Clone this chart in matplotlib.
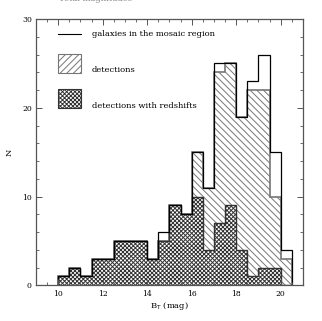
import matplotlib
matplotlib.use("Agg")
import matplotlib.pyplot as plt
import numpy as np
from matplotlib.patches import Rectangle
from matplotlib.ticker import MultipleLocator

# B_T magnitude histograms, 0.5 mag bins from 10 to 20.5
edges = np.arange(10, 20.51, 0.5)
total = [1, 2, 1, 3, 3, 5, 5, 5, 3, 6, 9, 8, 15, 11, 25, 25, 19, 23, 26, 15, 4]
detect = [1, 2, 1, 3, 3, 5, 5, 5, 3, 5, 9, 8, 15, 11, 24, 25, 19, 22, 22, 10, 3]
redshift = [1, 2, 1, 3, 3, 5, 5, 5, 3, 5, 9, 8, 10, 4, 7, 9, 4, 1, 2, 2, 0]

labels = ["galaxies in the mosaic region", "detections", "detections with redshifts"]

plt.rcParams['font.family'] = ['DejaVu Serif']
plt.rcParams['hatch.linewidth'] = 0.7

fig = plt.figure(figsize=(3.22, 3.21), dpi=100)
ax = fig.add_axes([0.1118, 0.111, 0.829, 0.8296])

gray = '#767676'
dark = '#333333'
bslash = chr(92)

# detections: single diagonal hatch
ax.stairs(detect, edges, fill=True, facecolor='white', edgecolor=gray,
          hatch=bslash * 5, linewidth=0)
ax.stairs(detect, edges, color=gray, linewidth=1.2)

# detections with redshifts: cross hatch
ax.stairs(redshift, edges, fill=True, facecolor='white', edgecolor=dark,
          hatch='x' * 8, linewidth=0)
ax.stairs(redshift, edges, color=dark, linewidth=1.0)

# all galaxies: outline only
ax.stairs(total, edges, color='black', linewidth=0.9)

ax.set_xlim(9, 21)
ax.set_ylim(0, 30)
ax.xaxis.set_major_locator(MultipleLocator(2))
ax.xaxis.set_minor_locator(MultipleLocator(0.5))
ax.yaxis.set_major_locator(MultipleLocator(10))
ax.yaxis.set_minor_locator(MultipleLocator(2))
ax.tick_params(which='both', direction='in', top=True, right=True,
               color='#555555', labelsize=5.5, pad=3)
ax.tick_params(which='major', length=4, width=0.7)
ax.tick_params(which='minor', length=2, width=0.6)
for s in ax.spines.values():
    s.set_color('#555555')
    s.set_linewidth(0.9)

ax.set_xlabel(r'B$_{\rm T}$ (mag)', fontsize=6, labelpad=2)
ax.set_ylabel('N', fontsize=6, labelpad=6)

# legend drawn by hand
tr = ax.transAxes
ax.plot([0.082, 0.169], [0.943, 0.943], transform=tr, color='black', lw=0.8)
ax.add_patch(Rectangle((0.082, 0.796), 0.087, 0.072, transform=tr,
                       facecolor='white', edgecolor=gray, hatch='/' * 5, lw=0.8))
ax.add_patch(Rectangle((0.082, 0.666), 0.087, 0.071, transform=tr,
                       facecolor='white', edgecolor=dark, hatch='x' * 8, lw=0.8))
ax.text(0.21, 0.943, labels[0], transform=tr, fontsize=6, va='center')
ax.text(0.21, 0.807, labels[1], transform=tr, fontsize=6, va='center')
ax.text(0.21, 0.673, labels[2], transform=tr, fontsize=6, va='center')

# clipped caption remnant at the very top
fig.text(0.183, 0.997, 'Total magnitudes', fontsize=6, color='#888888',
         va='baseline')

fig.savefig('out.png', dpi=100)
